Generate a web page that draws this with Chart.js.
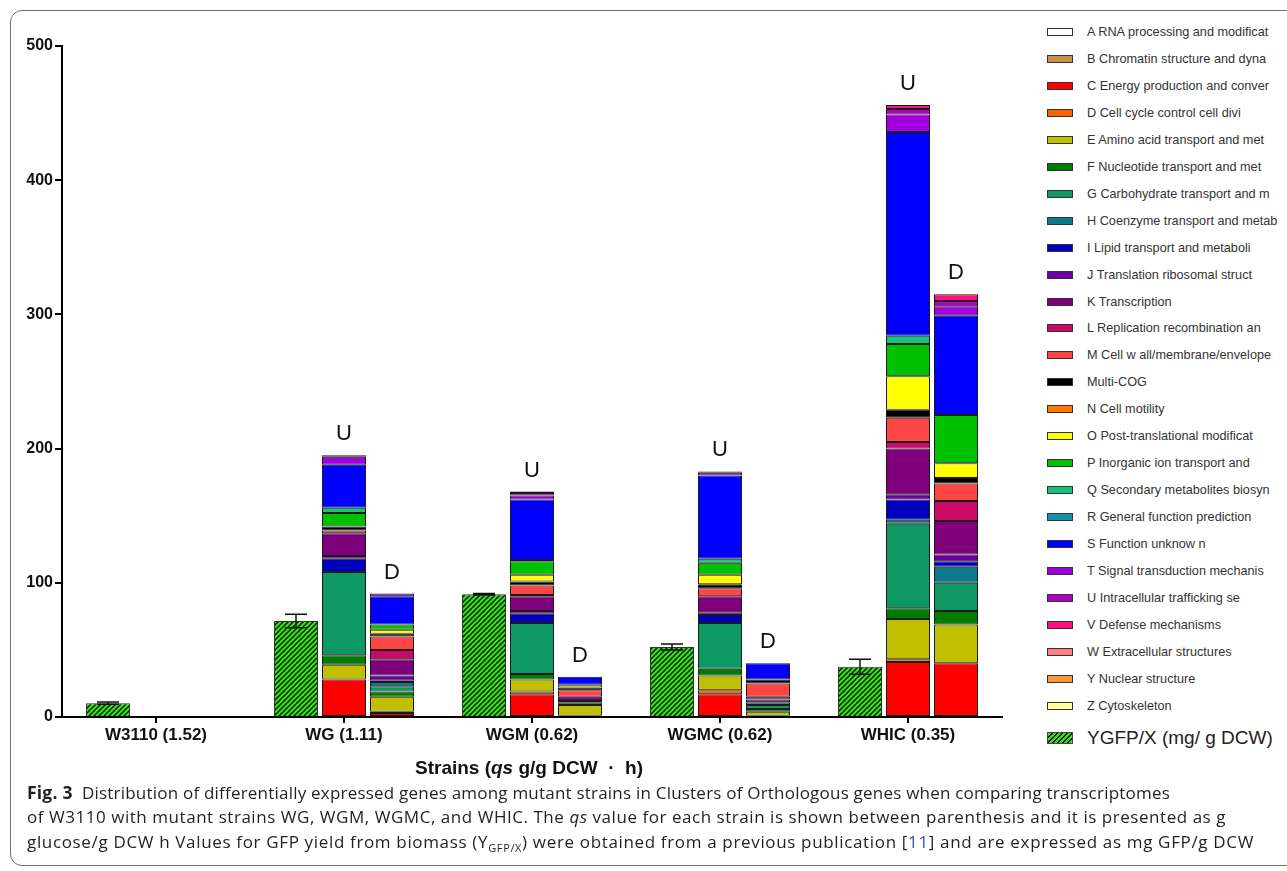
<!DOCTYPE html>
<html>
<head>
<meta charset="utf-8">
<script src="https://cdn.jsdelivr.net/npm/chart.js@4.4.1/dist/chart.umd.min.js"></script>
<style>
  body { margin: 0; background: #fff; width: 1287px; height: 871px; overflow: hidden; position: relative;
         font-family: "Liberation Sans", Arial, sans-serif; }
  .frame { position: absolute; left: 10px; top: 10px; width: 1320px; height: 856px; box-sizing: border-box;
           border: 1px solid #707070; border-radius: 12px; }
  #chart-wrap { position: absolute; left: 0; top: 0; width: 1012px; height: 760px; }
  #legend { position: absolute; left: 1047px; top: 0; }
  .leg-item { position: absolute; left: 0; height: 16px; display: flex; align-items: center; white-space: nowrap;
              font-size: 12.7px; color: #333; }
  .leg-box { width: 24px; height: 6px; border: 1px solid #333; margin-right: 14px; flex: none; }
  .leg-item.big { font-size: 19px; color: #222; height: 24px; }
  .leg-item.big .leg-box { height: 10px; border-color: #444; }
  .axis-title { position: absolute; top: 757px; left: 0; width: 1058px; text-align: center;
                font-weight: bold; font-size: 19px; color: #111; }
  .cap { position: absolute; left: 27px; white-space: nowrap; font-family: "Open Sans", "Noto Sans", sans-serif;
         font-size: 17px; line-height: 22px; color: #231f20; }
  .cap b { font-size: 17.5px; }
  .cap sub { font-size: 11px; line-height: 0; }
  .ref { color: #2f4fd0; }
</style>
</head>
<body>
<div class="frame"></div>
<div id="chart-wrap"><canvas id="cog-chart"></canvas></div>
<div id="legend"></div>
<div class="axis-title">Strains (<i>qs</i> g/g DCW &nbsp;·&nbsp; h)</div>
<div class="cap" style="top:781px" data-w="1143"><b>Fig. 3</b>&nbsp; Distribution of differentially expressed genes among mutant strains in Clusters of Orthologous genes when comparing transcriptomes</div>
<div class="cap" style="top:806px" data-w="1199">of W3110 with mutant strains WG, WGM, WGMC, and WHIC. The <i>qs</i> value for each strain is shown between parenthesis and it is presented as g</div>
<div class="cap" style="top:831px" data-w="1227">glucose/g DCW h Values for GFP yield from biomass (Y<sub>GFP/X</sub>) were obtained from a previous publication [<span class="ref">11</span>] and are expressed as mg GFP/g DCW</div>
<script>
const strains = ['W3110 (1.52)', 'WG (1.11)', 'WGM (0.62)', 'WGMC (0.62)', 'WHIC (0.35)'];

const cogLabels = [
    'A RNA processing and modificat', 'B Chromatin structure and dyna', 'C Energy production and conver',
    'D Cell cycle control cell divi', 'E Amino acid transport and met', 'F Nucleotide transport and met',
    'G Carbohydrate transport and m', 'H Coenzyme transport and metab', 'I Lipid transport and metaboli',
    'J Translation ribosomal struct', 'K Transcription', 'L Replication recombination an',
    'M Cell w all/membrane/envelope', 'Multi-COG', 'N Cell motility', 'O Post-translational modificat',
    'P Inorganic ion transport and', 'Q Secondary metabolites biosyn', 'R General function prediction',
    'S Function unknow n', 'T Signal transduction mechanis', 'U Intracellular trafficking se',
    'V Defense mechanisms', 'W Extracellular structures', 'Y Nuclear structure', 'Z Cytoskeleton'
];

const cogColors = [
    '#ffffff', '#c8924e', '#ff0000', '#ff6000', '#c0c000', '#007c00', '#0e9964', '#0f7a8c', '#0000c0',
    '#6c00a4', '#80007c', '#cc0868', '#ff4444', '#000000', '#ff7800', '#ffff00', '#00c000', '#14c47e',
    '#1492ac', '#0000ff', '#a000e0', '#b000c0', '#ff1080', '#ff8080', '#ff9a3c', '#ffff99'
];

// up-regulated genes per COG class, columns follow strains
const upGenes = [
    [0, 0, 0, 0, 0],      // A
    [0, 0, 0, 0, 0],      // B
    [0, 28, 17, 17, 41],  // C
    [0, 0, 2, 3, 2],      // D
    [0, 11, 9, 11, 30],   // E
    [0, 7, 4, 5, 8],      // F
    [0, 62, 38, 34, 63],  // G
    [0, 0, 0, 0, 3],      // H
    [0, 10, 7, 6, 15],    // I
    [0, 2, 2, 2, 4],      // J
    [0, 17, 11, 12, 34],  // K
    [0, 0, 1, 0, 5],      // L
    [0, 2, 7, 6, 18],     // M
    [0, 3, 3, 3, 6],      // Multi-COG
    [0, 0, 0, 0, 0],      // N
    [0, 0, 5, 7, 25],     // O
    [0, 10, 10, 9, 24],   // P
    [0, 4, 1, 3, 6],      // Q
    [0, 0, 0, 0, 0],      // R
    [0, 32, 45, 62, 152], // S
    [0, 6, 3, 2, 13],     // T
    [0, 1, 2, 1, 4],      // U
    [0, 0, 1, 0, 3],      // V
    [0, 0, 0, 0, 0],      // W
    [0, 0, 0, 0, 0],      // Y
    [0, 0, 0, 0, 0]       // Z
];

// down-regulated genes per COG class
const downGenes = [
    [0, 0, 0, 0, 0],      // A
    [0, 0, 0, 0, 0],      // B
    [0, 3, 1, 0, 40],     // C
    [0, 1, 0, 1, 0],      // D
    [0, 11, 8, 3, 29],    // E
    [0, 4, 2, 2, 10],     // F
    [0, 4, 0, 3, 21],     // G
    [0, 3, 1, 2, 12],     // H
    [0, 1, 0, 0, 4],      // I
    [0, 4, 0, 0, 5],      // J
    [0, 12, 3, 2, 25],    // K
    [0, 7, 0, 2, 15],     // L
    [0, 10, 5, 10, 13],   // M
    [0, 2, 2, 3, 4],      // Multi-COG
    [0, 0, 0, 0, 0],      // N
    [0, 3, 2, 0, 11],     // O
    [0, 4, 0, 0, 36],     // P
    [0, 0, 0, 0, 0],      // Q
    [0, 0, 0, 0, 0],      // R
    [0, 21, 6, 12, 74],   // S
    [0, 2, 0, 0, 7],      // T
    [0, 0, 0, 0, 4],      // U
    [0, 0, 0, 0, 5],      // V
    [0, 0, 0, 0, 0],      // W
    [0, 0, 0, 0, 0],      // Y
    [0, 0, 0, 0, 0]       // Z
];

const gfpLabel = 'YGFP/X (mg/ g DCW)';
const gfpYield = [10.3, 71.5, 91.5, 52.2, 37.5];
const gfpError = [0.8, 5, 0.5, 2.2, 5.6];
const yTicks = [0, 100, 200, 300, 400, 500];

const FONT = '"Liberation Sans", Arial, sans-serif';

function hatchPattern() {
    const c = document.createElement('canvas');
    c.width = 5; c.height = 5;
    const g = c.getContext('2d');
    g.fillStyle = '#2ee812';
    g.fillRect(0, 0, 5, 5);
    g.strokeStyle = '#0c0c0c';
    g.lineWidth = 1.3;
    g.beginPath();
    g.moveTo(0, 5); g.lineTo(5, 0);
    g.moveTo(-1, 1); g.lineTo(1, -1);
    g.moveTo(4, 6); g.lineTo(6, 4);
    g.stroke();
    return g.createPattern(c, 'repeat');
}

function buildLegend() {
    const box = document.getElementById('legend');
    cogLabels.forEach((label, k) => {
        const item = document.createElement('div');
        item.className = 'leg-item';
        item.style.top = (24 + k * 26.95) + 'px';
        item.innerHTML = '<span class="leg-box" style="background:' + cogColors[k] + '"></span>' + label;
        box.appendChild(item);
    });
    const gfp = document.createElement('div');
    gfp.className = 'leg-item big';
    gfp.style.top = '726px';
    gfp.innerHTML = '<span class="leg-box" style="background:repeating-linear-gradient(135deg,#2ee812 0 2.2px,#111 2.2px 3.6px)"></span>' + gfpLabel;
    box.appendChild(gfp);
}

function fitCaption() {
    document.querySelectorAll('.cap').forEach(el => {
        const target = +el.dataset.w;
        const chars = el.textContent.length;
        const w = el.getBoundingClientRect().width;
        el.style.letterSpacing = ((target - w) / chars) + 'px';
    });
}

const extrasPlugin = {
    id: 'extras',
    afterDatasetsDraw(chart) {
        const ctx = chart.ctx;
        const y = chart.scales.y;
        ctx.save();
        ctx.strokeStyle = '#111';
        ctx.lineWidth = 1.5;
        chart.getDatasetMeta(0).data.forEach((bar, i) => {
            const top = y.getPixelForValue(gfpYield[i] + gfpError[i]);
            const bot = y.getPixelForValue(gfpYield[i] - gfpError[i]);
            const half = bar.width / 4;
            ctx.beginPath();
            ctx.moveTo(bar.x, bot); ctx.lineTo(bar.x, top);
            ctx.moveTo(bar.x - half, top); ctx.lineTo(bar.x + half, top);
            ctx.moveTo(bar.x - half, bot); ctx.lineTo(bar.x + half, bot);
            ctx.stroke();
        });
        ctx.fillStyle = '#111';
        ctx.font = '22px ' + FONT;
        ctx.textAlign = 'center';
        ctx.textBaseline = 'alphabetic';
        [['U', upGenes, 1], ['D', downGenes, 1 + cogLabels.length]].forEach(([mark, rows, first]) => {
            strains.forEach((s, i) => {
                const total = rows.reduce((a, r) => a + r[i], 0);
                if (!total) return;
                const x = chart.getDatasetMeta(first).data[i].x;
                ctx.fillText(mark, x, y.getPixelForValue(total) - 15);
            });
        });
        ctx.restore();
    }
};

const datasets = [{
    label: gfpLabel,
    data: gfpYield,
    stack: 'gfp',
    backgroundColor: hatchPattern(),
    borderColor: '#333',
    borderWidth: 1
}];
[['U', upGenes], ['D', downGenes]].forEach(([stack, rows]) => {
    rows.forEach((row, k) => datasets.push({
        label: cogLabels[k],
        stack: stack,
        data: row.map(v => v || null),
        backgroundColor: cogColors[k],
        borderColor: '#1a1a1a',
        borderWidth: 1,
        borderSkipped: false
    }));
});

buildLegend();
fitCaption();

new Chart(document.getElementById('cog-chart'), {
    type: 'bar',
    data: { labels: strains, datasets: datasets },
    plugins: [extrasPlugin],
    options: {
        responsive: true,
        maintainAspectRatio: false,
        animation: false,
        layout: { padding: { top: 46, right: 10, left: 0, bottom: 0 } },
        datasets: { bar: { categoryPercentage: 0.766, barPercentage: 0.917 } },
        plugins: { legend: { display: false }, tooltip: { enabled: false } },
        scales: {
            x: {
                stacked: true,
                offset: true,
                grid: { offset: false, drawOnChartArea: false, tickLength: 6, color: '#000', lineWidth: 2 },
                border: { color: '#000', width: 2 },
                ticks: { color: '#111', padding: 2, maxRotation: 0, font: { family: FONT, size: 17, weight: 'bold' } },
                afterFit: s => { s.height = 43; }
            },
            y: {
                stacked: true,
                min: 0,
                max: 500,
                afterBuildTicks: s => { s.ticks = yTicks.map(v => ({ value: v })); },
                grid: { drawOnChartArea: false, tickLength: 7, color: '#000', lineWidth: 2 },
                border: { color: '#000', width: 2 },
                ticks: { color: '#111', padding: 2, font: { family: FONT, size: 16, weight: 'bold' } },
                afterFit: s => { s.width = 62; }
            }
        }
    }
});
</script>
</body>
</html>
